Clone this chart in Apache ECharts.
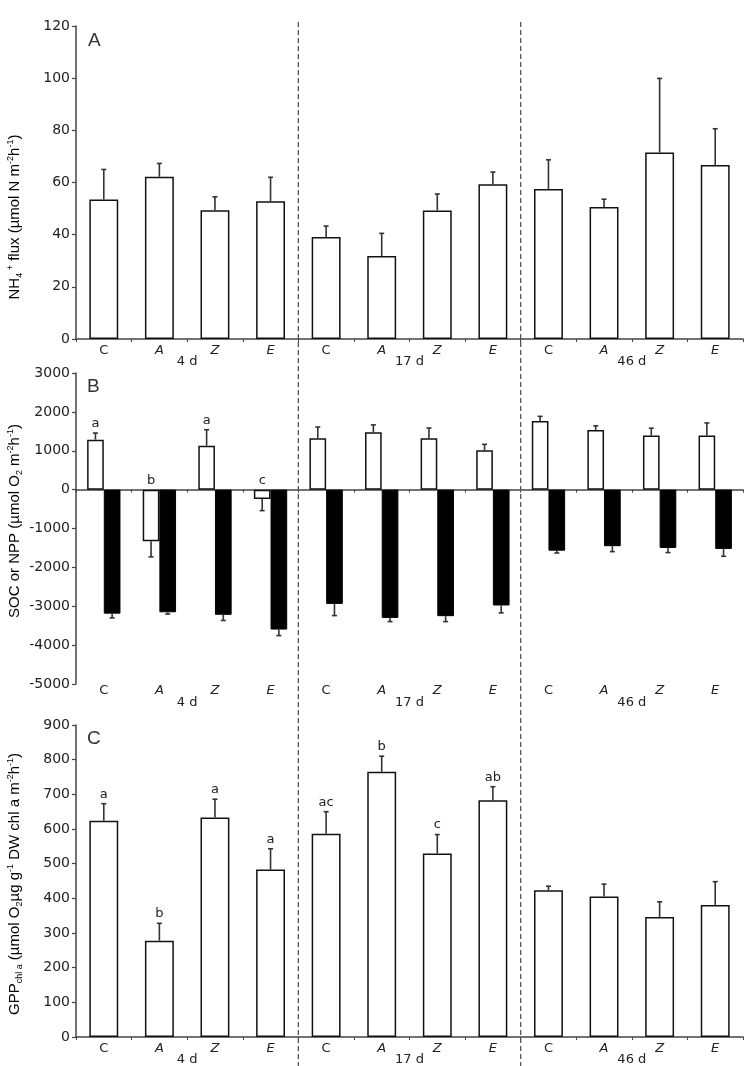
<!DOCTYPE html>
<html>
<head>
<meta charset="utf-8">
<script src="https://cdn.jsdelivr.net/npm/echarts@6/dist/echarts.min.js"></script>
<style>
  html, body { margin: 0; padding: 0; background: #fff; }
  #chart { width: 750px; height: 1066px; }
</style>
</head>
<body>
<div id="chart"></div>
<script>
// categories
const treatments = ['C', 'A', 'Z', 'E', 'C', 'A', 'Z', 'E', 'C', 'A', 'Z', 'E']
const groups = ['4 d', '17 d', '46 d']

// panel A: NH4+ flux
const nh4Mean = [53.5, 62.2, 49.4, 52.8, 39.1, 31.8, 49.3, 59.3, 57.5, 50.6, 71.5, 66.7]
const nh4Err = [11.5, 5.1, 5.1, 9.2, 4.2, 8.7, 6.3, 4.7, 11.2, 3.0, 28.4, 13.9]

// panel B: SOC (white) and NPP (black)
const socMean = [1285, -1330, 1130, -240, 1320, 1475, 1320, 1010, 1765, 1535, 1390, 1390]
const socErr = [170, 400, 410, 300, 290, 190, 265, 155, 120, 105, 190, 325]
const socLetters = ['a', 'b', 'a', 'c', '', '', '', '', '', '', '', '']
const nppMean = [-3190, -3155, -3220, -3600, -2940, -3300, -3255, -2980, -1570, -1455, -1500, -1525]
const nppErr = [110, 45, 145, 155, 300, 95, 140, 190, 60, 140, 120, 190]

// panel C: GPP chl a
const gppMean = [624, 278, 633, 483, 586, 765, 529, 683, 423, 405, 346, 381]
const gppErr = [49, 50, 53, 60, 64, 45, 55, 39, 12, 36, 44, 67]
const gppLetters = ['a', 'b', 'a', 'a', 'ac', 'b', 'c', 'ab', '', '', '', '']

const FONT = 'DejaVu Sans'
const AXIS_COLOR = '#444'

let myChart = echarts.init(document.getElementById('chart'))

function catLabel(v) {
  return v === 'C' ? '{n|C}' : '{i|' + v + '}'
}
const catRich = {
  n: { fontFamily: FONT, fontSize: 13, color: '#222' },
  i: { fontFamily: FONT, fontSize: 13, color: '#222', fontStyle: 'italic' }
}

// error bar (one sided, away from zero) + significance letter
function errSeries(name, xIdx, yIdx, mean, err, letters, shift) {
  return {
    name: name,
    type: 'custom',
    xAxisIndex: xIdx,
    yAxisIndex: yIdx,
    z: 5,
    encode: { x: 0, y: 1 },
    data: mean.map(function (v, i) { return [i, v, err[i]] }),
    renderItem: function (params, api) {
      const i = api.value(0)
      const v = api.value(1)
      const e = api.value(2)
      const band = api.size([1, 0])[0]
      const dx = band * shift
      const p0 = api.coord([i, v])
      const p1 = api.coord([i, v < 0 ? v - e : v + e])
      const zero = api.coord([i, 0])
      const x = p0[0] + dx
      const children = [
        { type: 'line', shape: { x1: x, y1: p0[1], x2: x, y2: p1[1] }, style: { stroke: '#333', lineWidth: 1.6 } },
        { type: 'line', shape: { x1: x - 2.5, y1: p1[1], x2: x + 2.5, y2: p1[1] }, style: { stroke: '#333', lineWidth: 1.6 } }
      ]
      const letter = letters ? letters[params.dataIndex] : ''
      if (letter) {
        const ty = v < 0 ? zero[1] - 3 : p1[1] - 3
        children.push({
          type: 'text',
          style: { text: letter, x: x, y: ty, align: 'center', verticalAlign: 'bottom', fontFamily: FONT, fontSize: 13, fill: '#222' }
        })
      }
      return { type: 'group', children: children }
    }
  }
}

const barStyleWhite = { color: '#fff', borderColor: '#111', borderWidth: 1.5 }
const barStyleBlack = { color: '#000', borderColor: '#000', borderWidth: 1 }

function yAxisBase(grid, min, max, interval) {
  return {
    type: 'value',
    gridIndex: grid,
    min: min,
    max: max,
    interval: interval,
    splitLine: { show: false },
    axisLine: { show: true, lineStyle: { color: AXIS_COLOR, width: 1.5 } },
    axisTick: { show: true, length: 4, lineStyle: { color: AXIS_COLOR, width: 1.2 } },
    axisLabel: {
      fontFamily: FONT, fontSize: 14, color: '#222', margin: 6,
      formatter: function (v) { return String(v) }
    }
  }
}

function catAxis(grid, showLine, showLabel, onZero) {
  return {
    type: 'category',
    gridIndex: grid,
    data: treatments,
    position: 'bottom',
    axisLine: { show: showLine, onZero: onZero, lineStyle: { color: AXIS_COLOR, width: 1.5 } },
    axisTick: { show: showLine, length: 3, lineStyle: { color: AXIS_COLOR } },
    axisLabel: { show: showLabel, formatter: catLabel, rich: catRich, margin: showLine ? 5 : 0 }
  }
}

function groupAxis(grid, offset) {
  return {
    type: 'category',
    gridIndex: grid,
    data: groups,
    position: 'bottom',
    offset: offset,
    axisLine: { show: false, onZero: false },
    axisTick: { show: false },
    axisLabel: { fontFamily: FONT, fontSize: 13, color: '#222', margin: 0 }
  }
}

const titleStyle = { fontFamily: 'Liberation Sans', fontSize: 19, fontWeight: 'normal', color: '#333' }

myChart.setOption({
  animation: false,
  title: [
    { text: 'A', left: 83, top: 26, textStyle: titleStyle },
    { text: 'B', left: 82, top: 372, textStyle: titleStyle },
    { text: 'C', left: 82, top: 724, textStyle: titleStyle }
  ],
  grid: [
    { left: 76, top: 26, width: 667, height: 313 },
    { left: 76, top: 373, width: 667, height: 311 },
    { left: 76, top: 725, width: 667, height: 315 }
  ],
  xAxis: [
    catAxis(0, true, true, true),
    groupAxis(0, 16),
    catAxis(1, true, false, true),
    catAxis(1, false, true, false),
    groupAxis(1, 12),
    catAxis(2, true, true, true),
    groupAxis(2, 16)
  ],
  yAxis: [
    yAxisBase(0, 0, 120, 20),
    yAxisBase(1, -5000, 3000, 1000),
    yAxisBase(2, 0, 900, 100)
  ],
  series: [
    { name: 'NH4', type: 'bar', xAxisIndex: 0, yAxisIndex: 0, data: nh4Mean, barWidth: '52%', itemStyle: barStyleWhite },
    errSeries('NH4 err', 0, 0, nh4Mean, nh4Err, null, 0),

    { name: 'SOC', type: 'bar', xAxisIndex: 2, yAxisIndex: 1, data: socMean, barWidth: '30%', barGap: '0%', itemStyle: barStyleWhite },
    { name: 'NPP', type: 'bar', xAxisIndex: 2, yAxisIndex: 1, data: nppMean, barWidth: '30%', barGap: '0%', itemStyle: barStyleBlack },
    errSeries('SOC err', 2, 1, socMean, socErr, socLetters, -0.15),
    errSeries('NPP err', 2, 1, nppMean, nppErr, null, 0.15),

    { name: 'GPP', type: 'bar', xAxisIndex: 5, yAxisIndex: 2, data: gppMean, barWidth: '52%', itemStyle: barStyleWhite },
    errSeries('GPP err', 5, 2, gppMean, gppErr, gppLetters, 0)
  ]
})

// axis names (rotated, with sub/superscripts)
const nameRich = {
  t: { fontFamily: 'Liberation Sans', fontSize: 15, color: '#333', lineHeight: 18, verticalAlign: 'middle' },
  sup: { fontFamily: 'Liberation Sans', fontSize: 9, color: '#333', lineHeight: 18, verticalAlign: 'top' },
  sub: { fontFamily: 'Liberation Sans', fontSize: 9, color: '#333', lineHeight: 18, verticalAlign: 'bottom' }
}
function nameText(id, text, y) {
  return {
    id: id,
    type: 'text',
    x: 15,
    y: y,
    rotation: Math.PI / 2,
    style: { text: text, rich: nameRich, align: 'center', verticalAlign: 'middle' }
  }
}

// dashed separators between the day groups, placed through the axis scale
const graphics = [
  nameText('nameA', '{t|NH}{sub|4}{sup| +}{t| flux (µmol N m}{sup|-2}{t|h}{sup|-1}{t|)}', 217),
  nameText('nameB', '{t|SOC or NPP (µmol O}{sub|2}{t| m}{sup|-2}{t|h}{sup|-1}{t|)}', 521),
  nameText('nameC', '{t|GPP}{sub|chl a}{t| (µmol O}{sub|2}{t|µg g}{sup|-1}{t| DW chl }{t|a}{t| m}{sup|-2}{t|h}{sup|-1}{t|)}', 884)
]
;[4, 8].forEach(function (k, n) {
  const xa = myChart.convertToPixel({ xAxisIndex: 0 }, k - 1)
  const xb = myChart.convertToPixel({ xAxisIndex: 0 }, k)
  const x = (xa + xb) / 2
  graphics.push({
    id: 'sep' + n,
    type: 'line',
    z: 10,
    shape: { x1: x, y1: 22, x2: x, y2: 1066 },
    style: { stroke: '#555', lineWidth: 1.3, lineDash: [5, 3] }
  })
})
myChart.setOption({ graphic: graphics })
</script>
</body>
</html>
